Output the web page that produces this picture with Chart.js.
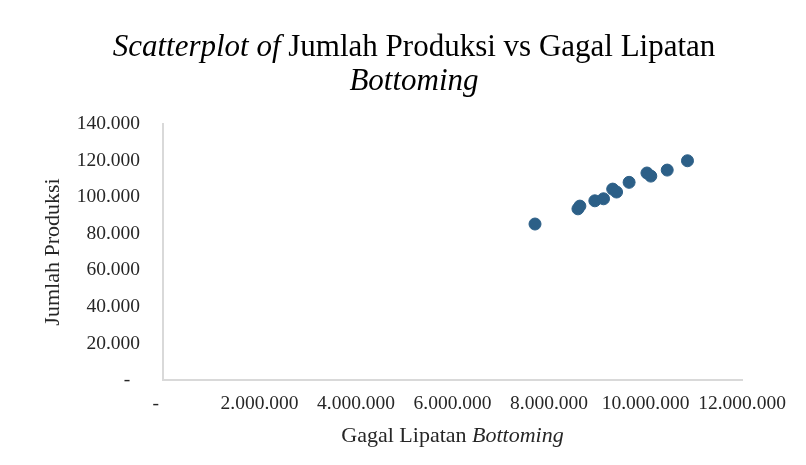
<!DOCTYPE html>
<html>
<head>
<meta charset="utf-8">
<script src="https://cdn.jsdelivr.net/npm/chart.js@4/dist/chart.umd.min.js"></script>
<style>
  html, body { margin: 0; padding: 0; background: #fff; }
  #wrap { width: 806px; height: 465px; }
</style>
</head>
<body>
<div id="wrap"><canvas id="chart"></canvas></div>
<script>
// Gagal Lipatan Bottoming (x) vs Jumlah Produksi (y)
const gagalLipatan = [7710000, 8600000, 8640000, 8950000, 9130000, 9320000, 9400000, 9660000, 10030000, 10110000, 10450000, 10870000];
const jumlahProduksi = [85300, 93600, 95100, 98000, 99100, 104400, 102800, 108100, 113200, 111500, 114800, 119900];

const xTicks = [0, 2000000, 4000000, 6000000, 8000000, 10000000, 12000000];
const yTicks = [0, 20000, 40000, 60000, 80000, 100000, 120000, 140000];

const FONT = "'Liberation Serif', 'Times New Roman', serif";
const TEXT = "#262626";
const AXIS = "#d9d9d9";
const MARK = "#2c5f87";

function fmtDots(v, zeroPad) {
  if (v === 0) return zeroPad;
  return String(Math.round(v)).replace(/\B(?=(\d{3})+(?!\d))/g, ".");
}

// draw text made of runs with different fonts, centred on cx
function drawRuns(ctx, runs, cx, y) {
  let total = 0;
  runs.forEach(r => { ctx.font = r.font; r.w = ctx.measureText(r.text).width; total += r.w; });
  let x = cx - total / 2;
  ctx.textAlign = "left";
  runs.forEach(r => { ctx.font = r.font; ctx.fillText(r.text, x, y); x += r.w; });
}

const titlesPlugin = {
  id: "titles",
  afterDraw(chart) {
    const ctx = chart.ctx;
    const a = chart.chartArea;
    ctx.save();
    ctx.fillStyle = "#000";
    ctx.textBaseline = "alphabetic";
    drawRuns(ctx, [
      { text: "Scatterplot of ", font: "italic 31px " + FONT },
      { text: "Jumlah Produksi vs Gagal Lipatan", font: "31px " + FONT }
    ], 414, 56);
    drawRuns(ctx, [{ text: "Bottoming", font: "italic 31px " + FONT }], 414, 90);

    ctx.fillStyle = TEXT;
    drawRuns(ctx, [
      { text: "Gagal Lipatan ", font: "22px " + FONT },
      { text: "Bottoming", font: "italic 22px " + FONT }
    ], (a.left + a.right) / 2, 442);

    ctx.translate(59, (a.top + a.bottom) / 2);
    ctx.rotate(-Math.PI / 2);
    drawRuns(ctx, [{ text: "Jumlah Produksi", font: "22px " + FONT }], 0, 0);
    ctx.restore();
  }
};

const points = gagalLipatan.map((x, i) => ({ x: x, y: jumlahProduksi[i] }));

new Chart(document.getElementById("chart"), {
  type: "scatter",
  data: {
    datasets: [{
      label: "Jumlah Produksi",
      data: points,
      backgroundColor: MARK,
      borderColor: MARK,
      borderWidth: 1,
      pointRadius: 6,
      pointHoverRadius: 6
    }]
  },
  options: {
    responsive: true,
    maintainAspectRatio: false,
    animation: false,
    layout: { padding: { top: 124, right: 64, left: 0, bottom: 0 } },
    plugins: { legend: { display: false }, tooltip: { enabled: false }, title: { display: false } },
    scales: {
      x: {
        type: "linear",
        min: 0,
        max: 12000000,
        afterFit: s => { s.height = 85; },
        afterBuildTicks: s => { s.ticks = xTicks.map(v => ({ value: v })); },
        grid: { display: false, drawTicks: false },
        border: { display: true, color: AXIS, width: 2 },
        ticks: {
          padding: 12,
          maxRotation: 0,
          autoSkip: false,
          color: TEXT,
          font: { family: FONT, size: 19.5 },
          callback: v => fmtDots(v, "-   ")
        }
      },
      y: {
        min: 0,
        max: 140000,
        afterFit: s => { s.width = 163; },
        afterBuildTicks: s => { s.ticks = yTicks.map(v => ({ value: v })); },
        grid: { display: false, drawTicks: false },
        border: { display: true, color: AXIS, width: 2 },
        ticks: {
          padding: 23,
          color: TEXT,
          font: { family: FONT, size: 19.5 },
          callback: v => fmtDots(v, "-  ")
        }
      }
    }
  },
  plugins: [titlesPlugin]
});
</script>
</body>
</html>
